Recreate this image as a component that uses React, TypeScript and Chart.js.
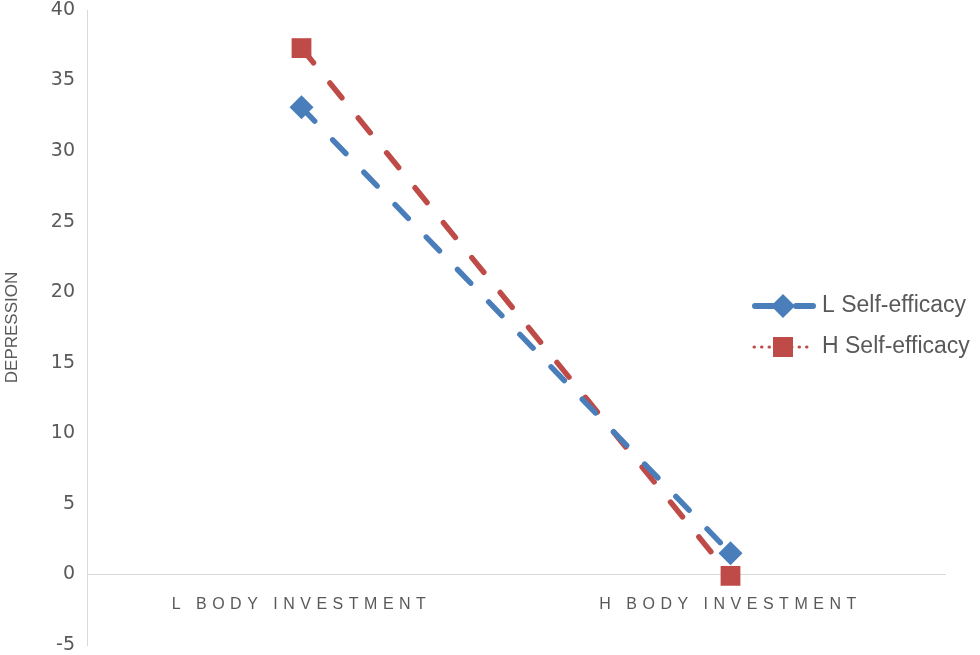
import React, { useEffect, useRef } from 'react';
import { Chart, registerables } from 'chart.js';

Chart.register(...registerables);

const categories = ['L BODY INVESTMENT', 'H BODY INVESTMENT'];
const seriesNames = ['L Self-efficacy', 'H Self-efficacy'];
const lowSelfEfficacy = [33.1, 1.5];
const highSelfEfficacy = [37.3, -0.1];
const yMin = -5;
const yMax = 40;
const yStep = 5;

const BLUE = '#4a7ebb';
const RED = '#be4b48';
const TEXT = '#595959';
const AXIS = '#d9d9d9';
const FONT = "'Liberation Sans', Arial, sans-serif";
const WIDE_FONT = "'DejaVu Sans', sans-serif";

const sideLegend = {
  id: 'sideLegend',
  beforeDraw(chart: any) {
    const xs = chart.scales.x;
    if (xs && !xs._lsPatched) {
      const orig = xs.drawLabels.bind(xs);
      xs.drawLabels = (area: any) => {
        const c = chart.ctx;
        c.save();
        (c as any).letterSpacing = '5.5px';
        orig(area);
        c.restore();
      };
      xs._lsPatched = true;
    }
  },
  afterDraw(chart: any) {
    const ctx = chart.ctx as CanvasRenderingContext2D;
    const area = chart.chartArea;
    const x0 = area.right - 193;
    const rows = [area.top + 296, area.top + 337];
    const colors = [BLUE, RED];
    rows.forEach((y, i) => {
      const col = colors[i];
      ctx.save();
      ctx.strokeStyle = col;
      ctx.fillStyle = col;
      const mx = x0 + 31;
      if (i === 0) {
        ctx.lineWidth = 6;
        ctx.lineCap = 'round';
        ctx.beginPath();
        ctx.moveTo(x0 + 3, y);
        ctx.lineTo(x0 + 24, y);
        ctx.moveTo(x0 + 44, y);
        ctx.lineTo(x0 + 61, y);
        ctx.stroke();
        const r = 12;
        ctx.beginPath();
        ctx.moveTo(mx, y - r);
        ctx.lineTo(mx + r, y);
        ctx.lineTo(mx, y + r);
        ctx.lineTo(mx - r, y);
        ctx.closePath();
        ctx.fill();
      } else {
        ctx.lineWidth = 3;
        ctx.lineCap = 'round';
        ctx.setLineDash([0.5, 7]);
        ctx.beginPath();
        ctx.moveTo(x0 + 2, y);
        ctx.lineTo(x0 + 62, y);
        ctx.stroke();
        ctx.setLineDash([]);
        const s = 10;
        ctx.fillRect(mx - s, y - s, 2 * s, 2 * s);
      }
      ctx.fillStyle = TEXT;
      ctx.font = `23px ${FONT}`;
      ctx.textAlign = 'left';
      ctx.textBaseline = 'middle';
      ctx.fillText(seriesNames[i], x0 + 70, y);
      ctx.restore();
    });
  },
};

export default function App() {
  const ref = useRef<HTMLCanvasElement | null>(null);
  useEffect(() => {
    if (!ref.current) return;
    const chart = new Chart(ref.current, {
      type: 'line',
      data: {
        labels: categories,
        datasets: [
          {
            label: seriesNames[0],
            data: lowSelfEfficacy,
            borderColor: BLUE,
            backgroundColor: BLUE,
            borderWidth: 5.5,
            borderDash: [19, 26],
            borderCapStyle: 'round',
            pointStyle: 'rectRot',
            pointRadius: 12,
            pointBorderWidth: 0,
            pointBackgroundColor: BLUE,
            fill: false,
            tension: 0,
          },
          {
            label: seriesNames[1],
            data: highSelfEfficacy,
            borderColor: RED,
            backgroundColor: RED,
            borderWidth: 5.5,
            borderDash: [19, 26],
            borderCapStyle: 'round',
            pointStyle: 'rect',
            pointRadius: 14,
            pointBorderWidth: 0,
            pointBackgroundColor: RED,
            fill: false,
            tension: 0,
          },
        ],
      },
      options: {
        animation: false,
        responsive: true,
        maintainAspectRatio: false,
        layout: { padding: { left: 0, right: 35, top: 6, bottom: 5 } },
        plugins: {
          legend: { display: false },
          tooltip: { enabled: false },
        },
        scales: {
          x: {
            type: 'category',
            position: { y: 0 } as any,
            offset: true,
            grid: { display: false },
            border: { display: true, color: AXIS, width: 1 },
            ticks: {
              color: TEXT,
              font: { size: 16, family: FONT },
              padding: 13,
              maxRotation: 0,
            },
          },
          y: {
            min: yMin,
            max: yMax,
            grid: { display: false, tickLength: 12 },
            border: { display: true, color: AXIS, width: 1 },
            ticks: {
              stepSize: yStep,
              color: TEXT,
              font: { size: 19, family: WIDE_FONT, lineHeight: 1 },
              padding: 0,
            },
            title: {
              display: true,
              text: 'DEPRESSION',
              color: TEXT,
              font: { size: 17, family: FONT },
              padding: { top: 2, bottom: 0 },
            },
            afterFit: (s: any) => {
              s.width = 87;
            },
          },
        },
      },
      plugins: [sideLegend],
    });
    return () => chart.destroy();
  }, []);
  return (
    <div style={{ position: 'fixed', left: 0, top: -4, width: 980, height: 663 }}>
      <canvas ref={ref} />
    </div>
  );
}
